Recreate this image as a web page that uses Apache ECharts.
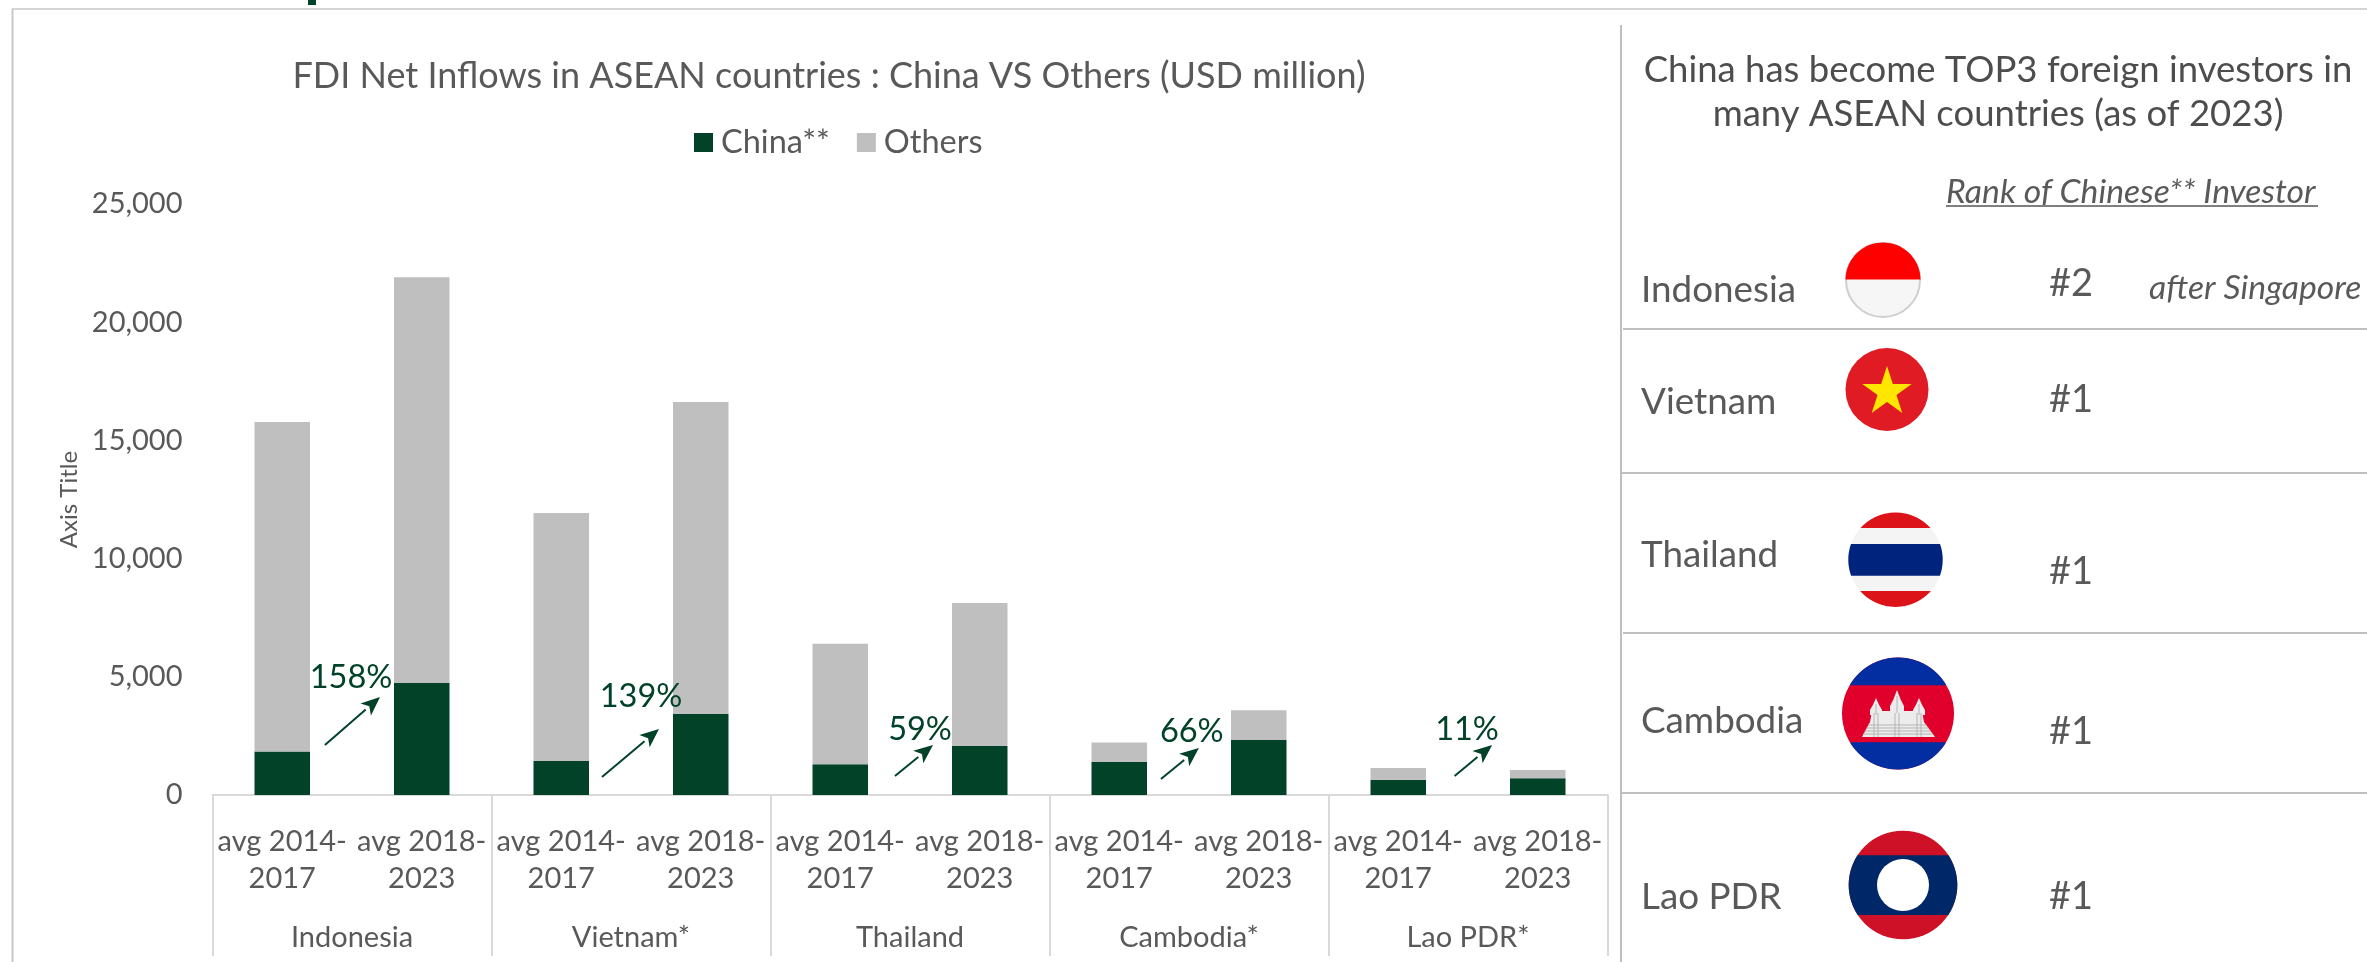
<!DOCTYPE html>
<html>
<head>
<meta charset="utf-8">
<title>FDI Net Inflows in ASEAN countries</title>
<script src="https://cdn.jsdelivr.net/npm/echarts@6/dist/echarts.min.js"></script>
<style>
  html, body { margin: 0; padding: 0; background: #fff; }
  #chart { width: 2367px; height: 962px; }
</style>
</head>
<body>
<div id="chart"></div>
<script>
// Stacked FDI inflows, USD million
const periods = ['avg 2014-\n2017', 'avg 2018-\n2023'];
const countries = ['Indonesia', 'Vietnam*', 'Thailand', 'Cambodia*', 'Lao PDR*'];
const chinaValues = [1836, 4738, 1433, 3426, 1302, 2070, 1400, 2325, 640, 710];
const othersValues = [13942, 17162, 10497, 13194, 5098, 6050, 820, 1265, 500, 347];
const yTicksMax = 25000;
const yTickStep = 5000;

// Growth callouts: label, then arrow start/end and label anchor in axis units (bar slot, USD million)
const growthLabels = ['158%', '139%', '59%', '66%', '11%'];
const growthArrowStart = [[0.806, 2115], [2.792, 761], [4.892, 804], [6.799, 677], [8.904, 804]];
const growthArrowEnd = [[1.201, 4146], [3.201, 2792], [5.165, 2115], [7.071, 1988], [9.173, 2115]];
const growthLabelAt = [[0.993, 4950], [3.072, 4180], [5.072, 2790], [7.02, 2700], [8.993, 2750]];

// Investor ranking table
const rankCountries = ['Indonesia', 'Vietnam', 'Thailand', 'Cambodia', 'Lao PDR'];
const rankValues = ['#2', '#1', '#1', '#1', '#1'];
const rankNote = 'after Singapore';

const GREY_TEXT = '#595959';
const CHINA_GREEN = '#024228';
const OTHERS_GREY = '#bfbfbf';
const RULE = '#bfbfbf';
const FONT = 'Lato';

const categories = countries.flatMap(() => periods);

// Polygon for the part of a circle lying between two horizontal lines
function circleBand(cx, cy, r, y0, y1) {
  const top = Math.max(y0, cy - r), bottom = Math.min(y1, cy + r);
  const right = [], left = [];
  const steps = 48;
  for (let i = 0; i <= steps; i++) {
    const y = top + (bottom - top) * i / steps;
    const dx = Math.sqrt(Math.max(0, r * r - (y - cy) * (y - cy)));
    right.push([cx + dx, y]);
    left.unshift([cx - dx, y]);
  }
  return right.concat(left);
}
const band = (cx, cy, r, y0, y1, fill) => ({
  type: 'polygon', shape: { points: circleBand(cx, cy, r, y0, y1) }, style: { fill }
});
const disc = (cx, cy, r, fill, stroke) => ({
  type: 'circle', shape: { cx, cy, r }, style: { fill, stroke: stroke || null, lineWidth: stroke ? 2 : 0 }
});
const poly = (points, fill) => ({ type: 'polygon', shape: { points }, style: { fill } });
const rule = (x1, y1, x2, y2, stroke, lineWidth) => ({
  type: 'line', shape: { x1, y1, x2, y2 }, style: { stroke: stroke || RULE, lineWidth: lineWidth || 2 }
});
const label = (x, y, text, size, extra) => ({
  type: 'text', x, y,
  style: Object.assign({
    text, fontSize: size, fontFamily: FONT, fill: GREY_TEXT, align: 'left', verticalAlign: 'middle'
  }, extra || {})
});

function starPoints(cx, cy, R) {
  const pts = [], r = R * 0.382;
  for (let i = 0; i < 10; i++) {
    const a = -Math.PI / 2 + i * Math.PI / 5, d = i % 2 ? r : R;
    pts.push([cx + d * Math.cos(a), cy + d * Math.sin(a)]);
  }
  return pts;
}

// Angkor Wat emblem on the Cambodian flag
function temple(cx, base) {
  const light = '#ececec', shade = '#b4b4b4';
  const parts = [];
  const tower = (x, top, halfW, bottom) => {
    parts.push(poly([[x, top], [x + halfW * 0.5, top + (bottom - top) * 0.4], [x + halfW, top + (bottom - top) * 0.7],
      [x + halfW, bottom], [x - halfW, bottom], [x - halfW, top + (bottom - top) * 0.7], [x - halfW * 0.5, top + (bottom - top) * 0.4]], light));
    parts.push(rule(x, top + 6, x, bottom, shade, 1));
  };
  parts.push(poly([[cx - 25, base - 26], [cx + 25, base - 26], [cx + 27, base - 15], [cx - 27, base - 15]], light));
  tower(cx, base - 47, 7, base - 24);
  tower(cx - 21, base - 39, 6, base - 22);
  tower(cx + 22, base - 39, 6, base - 22);
  parts.push(poly([[cx - 27, base - 15], [cx + 27, base - 15], [cx + 38, base], [cx - 35, base]], light));
  for (let i = 1; i <= 4; i++) parts.push(rule(cx - 27 - i * 1.8, base - 15 + i * 3, cx + 27 + i * 2.2, base - 15 + i * 3, shade, 1));
  [cx - 21, cx, cx + 22].forEach(x => parts.push(rule(x - 2, base - 24, x - 2, base, shade, 1), rule(x + 2, base - 24, x + 2, base, shade, 1)));
  return parts;
}

const flags = [
  disc(1883, 280, 37, '#f6f6f6', '#cfcfcf'),
  band(1883, 280, 37.5, 240, 279.5, '#fe0000'),

  disc(1887, 389.5, 41.5, '#e01b24'),
  poly(starPoints(1887, 392, 26), '#ffe600'),

  disc(1895.5, 559.7, 47.2, '#f4f4f4'),
  band(1895.5, 559.7, 47.2, 510, 528, '#dc1419'),
  band(1895.5, 559.7, 47.2, 544, 575.7, '#00247d'),
  band(1895.5, 559.7, 47.2, 591, 610, '#dc1419'),

  disc(1898, 713.5, 56, '#e0002b'),
  band(1898, 713.5, 56, 655, 685.3, '#032ea1'),
  band(1898, 713.5, 56, 742.3, 772, '#032ea1'),
  ...temple(1897, 737),

  disc(1903, 885, 54.3, '#ce1126'),
  band(1903, 885, 54.3, 855.3, 915, '#002868'),
  disc(1903, 885, 26, '#ffffff')
];

const rowNameY = [290, 402, 555, 721, 897];
const rowRankY = [284, 400, 572, 732, 897];

const graphics = [
  // Heading fragment and outer frame
  { type: 'rect', shape: { x: 308, y: 0, width: 8, height: 5 }, style: { fill: CHINA_GREEN } },
  rule(12, 9, 2367, 9, '#d4d4d4'),
  rule(12.5, 9, 12.5, 962, '#c8c8c8'),
  // Ranking panel
  rule(1621, 25, 1621, 962),
  rule(1623, 329, 2367, 329),
  rule(1621, 473, 2367, 473),
  rule(1623, 633, 2367, 633),
  rule(1621, 793, 2367, 793),
  label(1998, 70, 'China has become TOP3 foreign investors in', 36.5, { align: 'center', fill: '#4d4d4d' }),
  label(1998, 114, 'many ASEAN countries (as of 2023)', 36.5, { align: 'center', fill: '#4d4d4d' }),
  label(1946, 192, 'Rank of Chinese** Investor', 33.7, { fontStyle: 'italic' }),
  rule(1946, 206, 2318, 206, '#7f7f7f'),
  label(2149, 288, rankNote, 33.7, { fontStyle: 'italic' }),
  ...rankCountries.map((c, i) => label(1641, rowNameY[i], c, 36.8)),
  ...rankValues.map((r, i) => label(2049, rowRankY[i], r, 38)),
  ...flags
];

const growthData = growthLabels.map((_, i) => [
  growthArrowStart[i][0], growthArrowStart[i][1],
  growthArrowEnd[i][0], growthArrowEnd[i][1],
  growthLabelAt[i][0], growthLabelAt[i][1]
]);

function renderGrowth(params, api) {
  const from = api.coord([api.value(0), api.value(1)]);
  const to = api.coord([api.value(2), api.value(3)]);
  const at = api.coord([api.value(4), api.value(5)]);
  const angle = Math.atan2(to[1] - from[1], to[0] - from[0]);
  const headLen = 19, headHalf = 8;
  const ux = Math.cos(angle), uy = Math.sin(angle);
  const bx = to[0] - ux * headLen, by = to[1] - uy * headLen;
  return {
    type: 'group',
    children: [
      { type: 'line', shape: { x1: from[0], y1: from[1], x2: bx, y2: by }, style: { stroke: CHINA_GREEN, lineWidth: 2 } },
      { type: 'polygon', shape: { points: [to, [bx - uy * headHalf, by + ux * headHalf], [to[0] - ux * headLen * 0.75, to[1] - uy * headLen * 0.75], [bx + uy * headHalf, by - ux * headHalf]] }, style: { fill: CHINA_GREEN } },
      { type: 'text', x: at[0], y: at[1], style: { text: growthLabels[params.dataIndex], fontSize: 32.5, fontFamily: FONT, fill: CHINA_GREEN, align: 'center', verticalAlign: 'middle' } }
    ]
  };
}

const chart = echarts.init(document.getElementById('chart'), null, { renderer: 'canvas' });
chart.setOption({
  animation: false,
  backgroundColor: '#ffffff',
  textStyle: { fontFamily: FONT },
  title: {
    text: 'FDI Net Inflows in ASEAN countries : China VS Others (USD million)',
    left: 824, top: 53, textAlign: 'center',
    textStyle: { fontSize: 36, fontWeight: 'normal', color: GREY_TEXT, fontFamily: FONT }
  },
  legend: {
    left: 694, top: 126, padding: 0, itemWidth: 19, itemHeight: 19, itemGap: 27, icon: 'rect',
    data: ['China**', 'Others'],
    textStyle: { fontSize: 32.5, color: GREY_TEXT, fontFamily: FONT, padding: [0, 0, 0, 3] }
  },
  grid: { left: 212.5, top: 204, width: 1395, height: 591 },
  xAxis: [
    {
      type: 'category', data: categories, position: 'bottom',
      axisLine: { lineStyle: { color: '#d9d9d9', width: 2 } },
      axisTick: { show: false },
      axisLabel: { interval: 0, fontSize: 29, lineHeight: 37, color: GREY_TEXT, margin: 28, fontFamily: FONT }
    },
    {
      type: 'category', data: countries, position: 'bottom',
      axisLine: { show: false },
      axisTick: { show: true, length: 161, lineStyle: { color: '#d9d9d9', width: 2 } },
      axisLabel: { interval: 0, fontSize: 29, color: GREY_TEXT, margin: 128, fontFamily: FONT }
    },
    { type: 'value', min: 0, max: categories.length, show: false }
  ],
  yAxis: {
    type: 'value', min: 0, max: yTicksMax, interval: yTickStep,
    splitLine: { show: false }, axisLine: { show: false }, axisTick: { show: false },
    axisLabel: {
      fontSize: 29, color: GREY_TEXT, margin: 30, fontFamily: FONT,
      formatter: v => v.toLocaleString('en-US')
    },
    name: 'Axis Title', nameLocation: 'middle', nameRotate: 90, nameGap: 130,
    nameTextStyle: { fontSize: 24, color: GREY_TEXT, fontFamily: FONT }
  },
  series: [
    { name: 'China**', type: 'bar', stack: 'fdi', xAxisIndex: 0, barWidth: 55.5, data: chinaValues, itemStyle: { color: CHINA_GREEN } },
    { name: 'Others', type: 'bar', stack: 'fdi', xAxisIndex: 0, barWidth: 55.5, data: othersValues, itemStyle: { color: OTHERS_GREY } },
    { type: 'custom', xAxisIndex: 2, yAxisIndex: 0, z: 5, clip: false, silent: true, data: growthData, renderItem: renderGrowth, encode: { x: [0, 2, 4], y: [1, 3, 5] } }
  ],
  graphic: { elements: graphics }
});
</script>
</body>
</html>
